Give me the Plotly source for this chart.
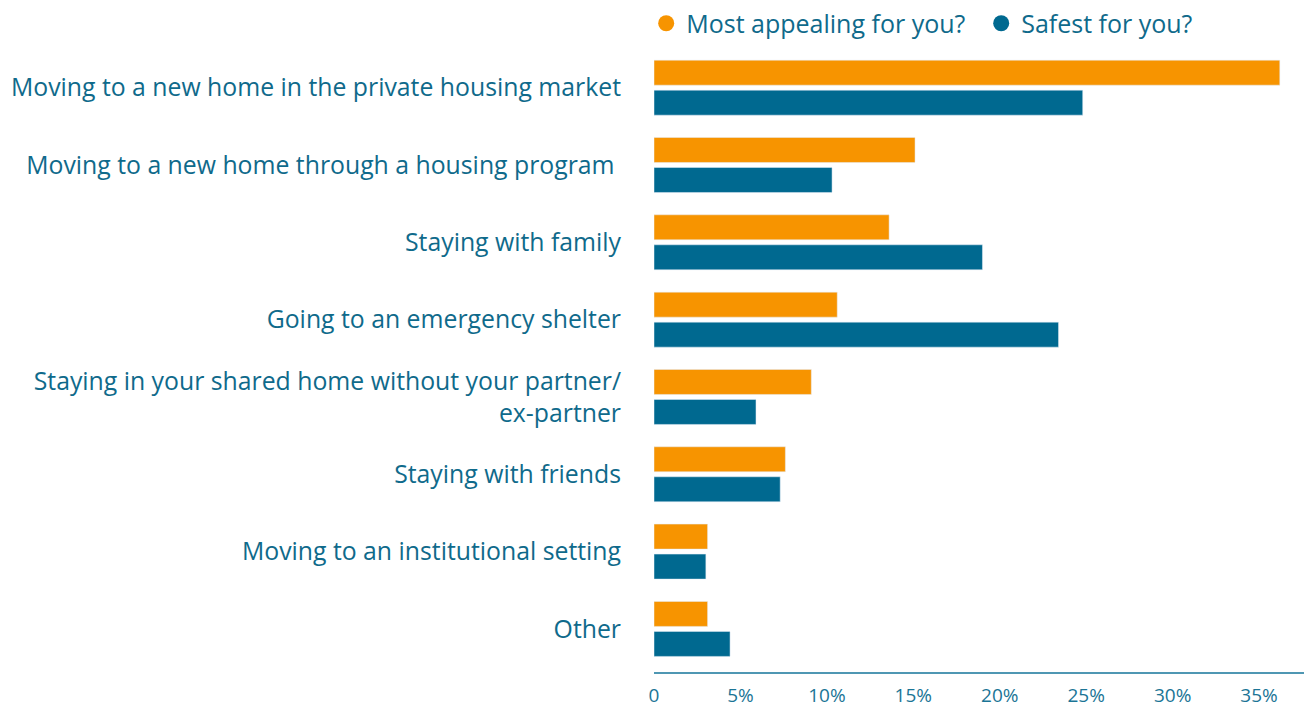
import plotly.graph_objects as go

categories = [
    "Moving to a new home in the private housing market",
    "Moving to a new home through a housing program\u00a0",
    "Staying with family",
    "Going to an emergency shelter",
    "Staying in your shared home without your partner/<br>ex-partner",
    "Staying with friends",
    "Moving to an institutional setting",
    "Other",
]
appealing = [36.2, 15.1, 13.6, 10.6, 9.1, 7.6, 3.1, 3.1]
safest = [24.8, 10.3, 19.0, 23.4, 5.9, 7.3, 3.0, 4.4]
tick_vals = [0, 5, 10, 15, 20, 25, 30, 35]
tick_text = ["0", "5%", "10%", "15%", "20%", "25%", "30%", "35%"]

ORANGE = "#F79400"
BLUE = "#006990"
TEXT = "#0f6a8b"
FONT = "Open Sans"

fig = go.Figure()
fig.add_trace(go.Bar(y=categories, x=appealing, orientation="h", marker_color=ORANGE,
                     name="Most appealing for you?", showlegend=False))
fig.add_trace(go.Bar(y=categories, x=safest, orientation="h", marker_color=BLUE,
                     name="Safest for you?", showlegend=False))
# legend entries as circles
fig.add_trace(go.Scatter(x=[None], y=[None], mode="markers", name="Most appealing for you?",
                         marker=dict(color=ORANGE, size=18, symbol="circle")))
fig.add_trace(go.Scatter(x=[None], y=[None], mode="markers", name="Safest for you?",
                         marker=dict(color=BLUE, size=18, symbol="circle")))

fig.update_layout(
    width=1304, height=709,
    margin=dict(l=654, r=0, t=49, b=36, autoexpand=False),
    paper_bgcolor="white", plot_bgcolor="white",
    barmode="group", bargap=0.224, bargroupgap=0.167,
    font=dict(family=FONT, color=TEXT, size=24),
    legend=dict(orientation="h", x=-0.012, xanchor="left", y=1.004, yanchor="bottom",
                font=dict(size=25, color=TEXT), itemsizing="trace",
                itemwidth=30, entrywidth=290, tracegroupgap=0, bgcolor="rgba(0,0,0,0)"),
    xaxis=dict(range=[0, 37.6], tickvals=tick_vals, ticktext=tick_text,
               showgrid=False, zeroline=False, showline=False,
               tickfont=dict(size=19, color="#1b7596", family=FONT), ticks="",
               ticklabelstandoff=9),
    yaxis=dict(type="category", range=[7.57, -0.5], showgrid=False, zeroline=False,
               ticks="", ticklabelstandoff=32, tickfont=dict(size=24.8, color=TEXT, family=FONT)),
    shapes=[dict(type="line", xref="paper", yref="paper", x0=0, x1=1, y0=0, y1=0,
                 line=dict(color="#4f97b3", width=2))],
)

fig.write_html("out.html", config={"displayModeBar": False},
               post_script="document.body.style.margin='0';")
